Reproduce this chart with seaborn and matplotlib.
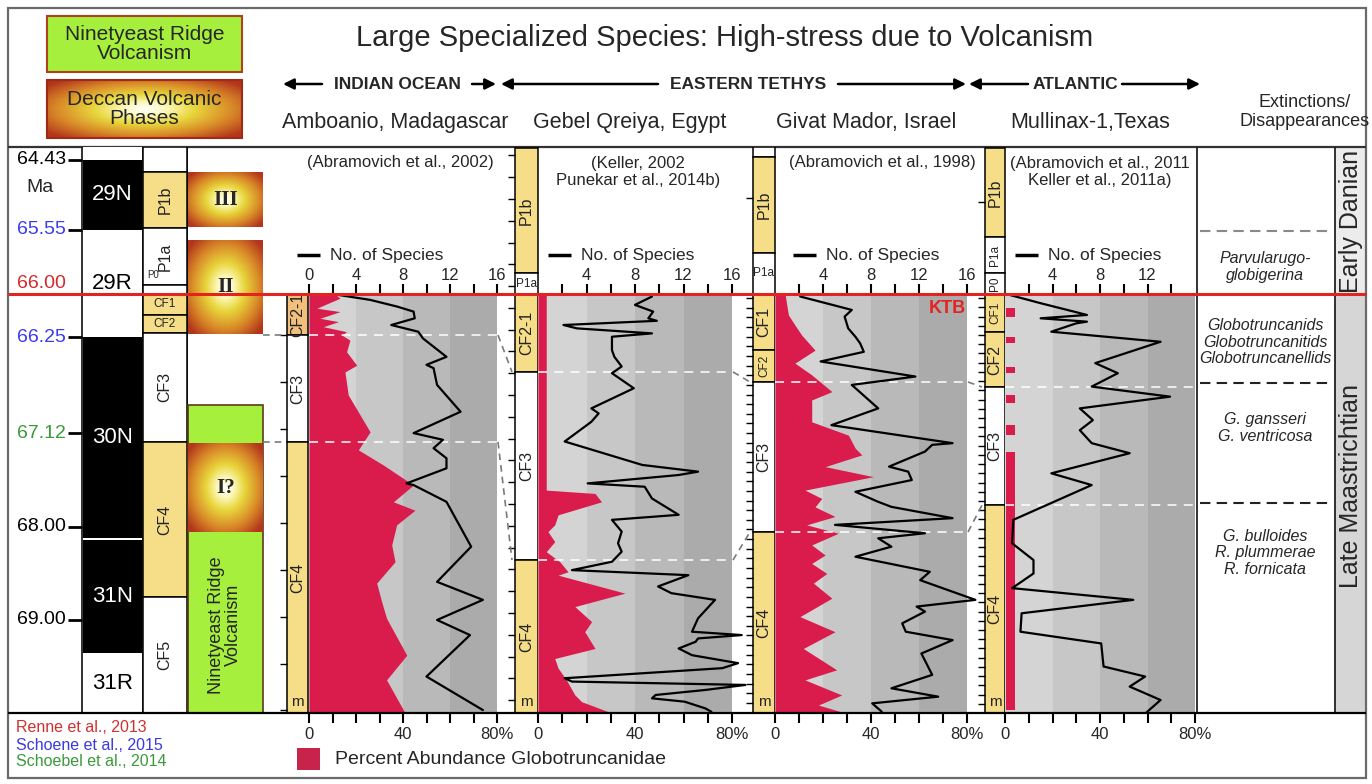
import numpy as np
import matplotlib
matplotlib.use('Agg')
import matplotlib.pyplot as plt
from matplotlib.colors import LinearSegmentedColormap
from matplotlib.patches import Rectangle
import seaborn as sns

sns.set_theme(style='white')
plt.rcParams['font.family'] = ['Liberation Sans', 'DejaVu Sans']

# position in section: 0 = K/Pg boundary (red line), 100 = base, negative = Danian above

# Amboanio, Madagascar
mad_sp_pos = [0, 1.4, 3.0, 4.2, 5.8, 7.4, 9.0, 10.6, 15.0, 16.9, 17.7, 21.7, 28.1, 33.2, 34.8, 36.8,
              39.2, 41.6, 45.2, 45.6, 49.6, 60.3, 68.7, 73.0, 77.8, 81.4, 91.3, 99.3]
mad_species = [2.0, 5.2, 7.5, 8.9, 9.0, 7.0, 9.3, 9.7, 11.7, 10.0, 10.6, 10.9, 12.9, 8.9, 11.4, 10.6,
               11.7, 11.7, 8.3, 8.9, 11.7, 13.8, 10.9, 14.8, 10.9, 13.7, 10.0, 14.8]
mad_pct_pos = [0, 1.0, 3.4, 4.2, 5.8, 6.6, 7.8, 9.0, 9.8, 11.0, 13.8, 17.0, 18.6, 24.1, 32.9, 37.2,
               40.8, 45.6, 49.6, 51.6, 55.1, 59.9, 63.9, 69.0, 73.4, 77.4, 86.2, 92.1, 100]
mad_pct = [11, 13.2, 3.3, 13.2, 4.7, 12.5, 6.1, 16.0, 13.9, 17.4, 16.0, 20.3, 15.3, 16.7, 26.0, 21.0,
           31.6, 44.4, 35.9, 45.1, 37.3, 35.2, 36.6, 28.8, 30.9, 33.0, 41.6, 33.0, 40.9]
mad_zones = ['CF2-1', 'CF3', 'CF4']
mad_zone_top = [0, 9.8, 35.3]
mad_zone_bot = [9.8, 35.3, 100]

# Gebel Qreiya, Egypt
egy_sp_pos = [0.6, 2.6, 4.2, 5.8, 6.4, 7.4, 8.2, 9.4, 10.2, 13.4, 15.0, 17.3, 18.9, 22.5, 27.3, 28.5,
              30.5, 35.2, 40.8, 42.4, 43.2, 45.2, 46.0, 48.8, 52.7, 53.9, 56.7, 59.5, 61.5, 63.9, 65.9,
              67.1, 69.8, 71.4, 73.0, 77.4, 80.6, 81.4, 82.2, 83.0, 84.6, 86.2, 88.1, 89.3, 91.7, 92.5,
              93.3, 94.5, 95.7, 96.5, 97.3, 98.9, 99.7]
egy_species = [9.4, 8.0, 9.5, 9.1, 9.8, 2.1, 3.2, 9.4, 6.1, 6.1, 6.3, 6.9, 6.1, 7.9, 4.4, 5.0,
               4.4, 2.2, 8.6, 13.2, 11.6, 4.1, 8.8, 9.4, 11.6, 6.1, 6.9, 6.6, 6.9, 6.1, 2.8,
               12.4, 9.9, 11.0, 14.6, 13.2, 12.7, 16.8, 13.2, 13.0, 11.6, 12.7, 16.5, 15.2, 2.2, 2.8,
               17.1, 13.8, 9.7, 9.4, 12.1, 13.8, 14.3]
egy_pct_pos = [0, 46.8, 47.6, 49.6, 52.7, 55.1, 56.7, 59.1, 61.5, 63.9, 66.3, 67.1, 71.4, 74.6, 78.2,
               80.6, 84.6, 87.0, 89.3, 92.1, 95.7, 97.3, 100]
egy_pct = [3.4, 3.4, 23.5, 26.2, 8.3, 6.9, 4.1, 6.9, 3.4, 9.0, 12.4, 8.3, 35.9, 15.2, 22.1,
           19.3, 23.5, 6.9, 8.3, 11.7, 15.2, 18.0, 30.4]
egy_zones = ['P1b', 'P1a', 'CF2-1', 'CF3', 'CF4']
egy_zone_top = [-34.8, -5.0, 0, 18.6, 63.5]
egy_zone_bot = [-5.0, 0, 18.6, 63.5, 100]

# Givat Mador, Israel
isr_sp_pos = [0.6, 3.8, 5.4, 8.2, 10.2, 11.8, 13.8, 16.1, 19.7, 21.7, 27.3, 31.3, 35.6, 36.0, 37.6,
              41.2, 42.4, 44.4, 47.2, 49.6, 50.8, 53.5, 55.1, 57.1, 58.3, 60.3, 62.7, 66.3, 68.3,
              73.0, 74.6, 75.8, 78.6, 80.6, 82.6, 85.8, 90.9, 94.1, 96.1, 97.7, 99.7]
isr_species = [2.1, 6.4, 5.8, 6.1, 6.7, 7.1, 7.4, 3.8, 11.7, 6.4, 8.6, 4.7, 14.8, 13.1, 12.5,
               9.5, 11.1, 11.4, 6.7, 8.6, 9.7, 14.8, 5.0, 12.5, 8.6, 9.7, 6.7, 12.9, 12.1,
               16.7, 11.8, 12.5, 10.6, 10.9, 14.8, 12.2, 13.1, 9.7, 13.6, 8.1, 8.9]
isr_pct_pos = [0, 2.6, 5.0, 7.4, 9.8, 13.4, 16.5, 19.3, 23.3, 25.3, 30.5, 33.7, 36.8, 38.4, 41.2,
               43.6, 46.8, 48.8, 50.8, 53.1, 55.1, 57.1, 59.9, 62.3, 64.3, 66.7, 69.0, 72.6, 77.0,
               80.6, 84.6, 89.7, 92.1, 95.7, 98.1, 100]
isr_pct = [4.2, 4.9, 5.6, 8.3, 11.1, 16.7, 8.3, 15.3, 23.7, 15.3, 15.3, 30.6, 33.4, 36.2, 20.9,
           41.0, 12.5, 19.5, 16.7, 25.0, 13.2, 26.4, 15.3, 20.9, 15.3, 21.6, 16.0, 23.7, 10.4,
           25.0, 11.8, 25.7, 12.5, 27.8, 18.1, 29.2]
isr_zones = ['', 'P1b', 'P1a', 'CF1', 'CF2', 'CF3', 'CF4']
isr_zone_top = [-35.1, -32.7, -9.8, 0, 13.4, 21.0, 56.8]
isr_zone_bot = [-32.7, -9.8, 0, 13.4, 21.0, 56.8, 100]

# Mullinax-1, Texas
tex_sp_pos = [0, 2.2, 4.2, 5.0, 5.8, 6.6, 7.0, 9.0, 11.4, 16.5, 18.9, 22.1, 24.5, 27.3, 30.1, 32.5,
              35.6, 38.0, 42.8, 45.6, 53.9, 59.5, 63.5, 66.7, 70.2, 73.0, 76.2, 80.6, 83.4, 88.9,
              91.3, 93.7, 96.9, 99.9]
tex_species = [0.1, 3.0, 5.8, 6.9, 3.0, 6.9, 6.0, 3.9, 13.1, 7.6, 9.5, 7.3, 13.9, 6.3, 7.4, 6.3,
               7.3, 10.5, 3.9, 7.3, 0.7, 0.6, 2.4, 2.4, 0.6, 10.8, 1.4, 1.3, 8.1, 8.3,
               11.8, 10.5, 13.1, 11.9]
tex_pct_top = [3.3, 10.3, 17.4, 24.1, 31.3, 37.7]
tex_pct_bot = [5.5, 11.7, 18.9, 26.0, 33.7, 99.3]
tex_pct = [3.4, 3.4, 3.4, 3.4, 3.4, 3.4]
tex_zones = ['P1b', 'P1a', 'P0', 'CF1', 'CF2', 'CF3', 'CF4']
tex_zone_top = [-34.8, -13.6, -5.0, 0, 9.1, 22.2, 50.4]
tex_zone_bot = [-13.6, -5.0, 0, 9.1, 22.2, 50.4, 100]

# time scale column
ma_labels = ['64.43', '65.55', '66.00', '66.25', '67.12', '68.00', '69.00']
ma_pos = [-32.0, -15.3, -2.6, 10.3, 33.2, 55.6, 77.8]
ma_colors = ['black', '#3b3bf0', '#d42a2a', '#3b3bf0', '#3a9a3a', 'black', 'black']
chrons = ['', '29N', '29R', '30N', '31N', '31R']
chron_top = [-35.1, -32.0, -15.3, 10.3, 58.7, 85.7]
chron_bot = [-32.0, -15.3, 10.3, 58.2, 85.7, 100]
chron_normal = [False, True, False, True, True, False]
ts_zones = ['', 'P1b', 'P1a', 'P0', 'CF1', 'CF2', 'CF3', 'CF4', 'CF5']
ts_zone_top = [-35.1, -29.1, -15.8, -2.1, 0, 5.0, 9.3, 35.3, 72.3]
ts_zone_bot = [-29.1, -15.8, -2.1, 0, 5.0, 9.3, 35.3, 72.3, 100]
deccan_phases = ['III', 'II', 'I?']
deccan_top = [-29.1, -12.9, 35.6]
deccan_bot = [-16.0, 9.5, 56.8]
ninetyeast_top, ninetyeast_bot = 26.5, 100

ext_names = ['Parvularugo-\nglobigerina', 'Globotruncanids\nGlobotruncanitids\nGlobotruncanellids',
             'G. gansseri\nG. ventricosa', 'G. bulloides\nR. plummerae\nR. fornicata']
ext_pos = [-6.4, 11.5, 32.0, 61.8]
ext_lines = [21.2, 49.9]
ext_top_line = -15.0

# ---- layout (pixels) ----
W, H = 1372, 784
TOP_Y, KTB_Y, BOT_Y = 147, 294, 713
PX = (BOT_Y - KTB_Y) / 100.0
D_TOP = (TOP_Y - KTB_Y) / PX

YELLOW = '#f6dd88'
ORANGE = '#f1c07c'
GREEN = '#a6ef3c'
RED = '#d91c4c'
KTB_RED = '#e3231f'
band_grays = ['#d4d4d4', '#c7c7c7', '#b9b9b9', '#ababab']
zone_fill = {'P1b': YELLOW, 'CF1': YELLOW, 'CF2': YELLOW, 'CF2-1': YELLOW, 'CF4': YELLOW}
glow_cmap = LinearSegmentedColormap.from_list(
    'glow', [(0, '#ffffff'), (0.18, '#fcf7b8'), (0.4, '#e8d63c'), (0.7, '#d98a28'), (1, '#b3361c')])


def box(x0, x1, y0, y1):
    return [x0 / W, 1 - y1 / H, (x1 - x0) / W, (y1 - y0) / H]


def glow(ax, x0, x1, y_a, y_b, z=3):
    xx, yy = np.meshgrid(np.linspace(-1, 1, 90), np.linspace(-1, 1, 90))
    r = np.clip(np.hypot(xx, yy) / 1.3, 0, 1)
    ax.imshow(r, cmap=glow_cmap, vmin=0, vmax=1, extent=(x0, x1, y_b, y_a),
              aspect='auto', interpolation='bilinear', zorder=z)


def strip(ax, x0, x1, names, tops, bots, horiz=(), over=None, m=True):
    for n, t, b in zip(names, tops, bots):
        fc = (over or {}).get(n, zone_fill.get(n, 'white'))
        ax.add_patch(Rectangle((x0, t), x1 - x0, b - t, facecolor=fc, edgecolor='black', lw=1.1, zorder=2))
        if n:
            flat = n in horiz
            small = flat or (b - t) * PX < 40
            ax.text((x0 + x1) / 2, (t + b) / 2, n, rotation=0 if flat else 90,
                    ha='center', va='center', fontsize=8.5 if small else 11.5, color='#222222', zorder=3)
    if m:
        ax.text((x0 + x1) / 2, 97.3, 'm', ha='center', va='center', fontsize=11, zorder=3)


fig = plt.figure(figsize=(W / 100, H / 100), dpi=100)

# background frame
bg = fig.add_axes([0, 0, 1, 1], zorder=0)
bg.set_xlim(0, W)
bg.set_ylim(H, 0)
bg.axis('off')
bg.add_patch(Rectangle((1335, TOP_Y), 31, KTB_Y - TOP_Y, facecolor='#ececec', lw=0))
bg.add_patch(Rectangle((1335, KTB_Y), 31, BOT_Y - KTB_Y, facecolor='#d6d6d6', lw=0))
bg.add_patch(Rectangle((8, 8), 1358, 770, fill=False, edgecolor='#6a6a6a', lw=1.6))
bg.hlines(TOP_Y, 8, 1366, color='#333333', lw=1.6)
bg.vlines([82, 143, 187, 1197, 1335], TOP_Y, BOT_Y, color='#222222', lw=1.3)

# columns drawn in section-position units
col = fig.add_axes(box(0, W, TOP_Y, BOT_Y), zorder=1)
col.set_xlim(0, W)
col.set_ylim(100, D_TOP)
col.axis('off')

for lab, pos, c in zip(ma_labels, ma_pos, ma_colors):
    col.text(66, pos, lab, ha='right', va='center', fontsize=14, color=c)
    if lab != '66.00':
        col.hlines(pos, 68, 82, color='black', lw=2)
col.text(40, (-25.3), 'Ma', ha='center', va='center', fontsize=14)

for n, t, b, normal in zip(chrons, chron_top, chron_bot, chron_normal):
    col.add_patch(Rectangle((83, t), 59, b - t, facecolor='black' if normal else 'white', lw=0, zorder=2))
    if n:
        col.text(112.5, (t + b) / 2, n, ha='center', va='center', fontsize=16,
                 color='white' if normal else 'black', zorder=3)

strip(col, 143, 187, ts_zones[:3] + [''] + ts_zones[4:], ts_zone_top, ts_zone_bot,
      horiz=('CF1', 'CF2'), m=False)
col.text(147, -4.6, 'P0', fontsize=7, ha='left', va='center', zorder=3)

col.add_patch(Rectangle((188, ninetyeast_top), 75, ninetyeast_bot - ninetyeast_top,
                        facecolor=GREEN, edgecolor='#5a3a1a', lw=1.2, zorder=2))
col.text(225, 79, 'Ninetyeast Ridge\nVolcanism', rotation=90, ha='center', va='center',
         fontsize=13, linespacing=0.95, zorder=4)
for ph, t, b in zip(deccan_phases, deccan_top, deccan_bot):
    glow(col, 188, 263, t, b)
    col.text(225.5, (t + b) / 2, ph, ha='center', va='center', fontsize=15, fontweight='bold',
             family=['Liberation Serif', 'DejaVu Serif'], zorder=4)

# per-site panels
panels = [
    dict(strip=(287, 308), data=(309, 497), sp_pos=mad_sp_pos, species=mad_species,
         pct_pos=mad_pct_pos, pct=mad_pct, zones=mad_zones, ztop=mad_zone_top, zbot=mad_zone_bot,
         horiz=(), over={'CF2-1': ORANGE}, sp_ticks=np.arange(0, 17, 2), leg=297,
         ticks=np.arange(9.8, 100, 11.2)),
    dict(strip=(515, 538), data=(538, 732), sp_pos=egy_sp_pos, species=egy_species,
         pct_pos=egy_pct_pos, pct=egy_pct, zones=egy_zones, ztop=egy_zone_top, zbot=egy_zone_bot,
         horiz=('P1a',), over=None, sp_ticks=np.arange(2, 17, 2), leg=548,
         ticks=np.arange(D_TOP + 2, 100, 5.2)),
    dict(strip=(753, 775), data=(775, 967), sp_pos=isr_sp_pos, species=isr_species,
         pct_pos=isr_pct_pos, pct=isr_pct, zones=isr_zones, ztop=isr_zone_top, zbot=isr_zone_bot,
         horiz=('P1a',), over=None, sp_ticks=np.arange(2, 17, 2), leg=793,
         ticks=np.r_[-23, np.arange(1, 100, 2.3)]),
    dict(strip=(985, 1005), data=(1005, 1195), sp_pos=tex_sp_pos, species=tex_species,
         pct_pos=None, pct=None, zones=tex_zones, ztop=tex_zone_top, zbot=tex_zone_bot,
         horiz=(), over=None, sp_ticks=np.arange(2, 15, 2), leg=1015,
         ticks=np.r_[-22, np.arange(1, 100, 2.2)]),
]

axes = []
for p in panels:
    s0, s1 = p['strip']
    strip(col, s0, s1, p['zones'], p['ztop'], p['zbot'], horiz=p['horiz'], over=p['over'])
    col.hlines(p['ticks'], s0 - 7, s0, color='black', lw=1)

    x0, x1 = p['data']
    ax = fig.add_axes(box(x0, x1, KTB_Y, BOT_Y), zorder=2)
    for k, c in enumerate(band_grays):
        ax.axvspan(20 * k, 20 * (k + 1), color=c, lw=0, zorder=0)
    if p['pct'] is not None:
        ax.fill_betweenx(p['pct_pos'], 0, p['pct'], color=RED, lw=0, zorder=1)
    else:
        ax.barh([(a + b) / 2 for a, b in zip(tex_pct_top, tex_pct_bot)], tex_pct,
                height=[b - a for a, b in zip(tex_pct_top, tex_pct_bot)], left=0.6,
                color=RED, lw=0, zorder=1)
    for z, t in zip(p['zones'], p['ztop']):
        if z in ('CF3', 'CF4'):
            ax.axhline(t, color='white', ls=(0, (5, 4)), lw=1.3, alpha=0.85, zorder=2)
    ax.set_xlim(0, 80)
    ax.set_ylim(100, 0)
    for sp in ax.spines.values():
        sp.set_visible(False)
    ax.set_xticks(np.arange(0, 81, 10))
    ax.set_xticklabels(['0', '', '', '', '40', '', '', '', '80%'])
    ax.set_yticks([])
    ax.tick_params(axis='x', bottom=True, direction='out', length=7, width=1.5,
                   color='black', labelsize=12, pad=3)

    axs = ax.twiny()
    sns.lineplot(x=p['species'], y=p['sp_pos'], sort=False, estimator=None, color='black',
                 lw=1.6, ax=axs, clip_on=False, zorder=3)
    axs.set_xlim(0, 16)
    ax.set_ylim(100, 0)
    axs.set_xlabel('')
    axs.set_ylabel('')
    ax.set_ylabel('')
    for sp in axs.spines.values():
        sp.set_visible(False)
    axs.set_xticks(p['sp_ticks'])
    axs.set_xticklabels([str(t) if t % 4 == 0 else '' for t in p['sp_ticks']])
    axs.tick_params(axis='x', top=True, labeltop=True, bottom=False, labelbottom=False,
                    direction='out', length=7, width=1.5, color='black', labelsize=12, pad=1)
    axs.tick_params(axis='y', left=False, labelleft=False)
    axes.append(ax)

axes[2].text(72, 3.5, 'KTB', color=KTB_RED, fontsize=13, fontweight='bold',
             ha='center', va='center', zorder=4)

# correlation lines between sections
dash = dict(color='#7a7a7a', ls=(0, (4, 3)), lw=1.2)
b_mad = [t for z, t in zip(mad_zones, mad_zone_top) if z in ('CF3', 'CF4')]
b_egy = [t for z, t in zip(egy_zones, egy_zone_top) if z in ('CF3', 'CF4')]
b_isr = [t for z, t in zip(isr_zones, isr_zone_top) if z in ('CF3', 'CF4')]
b_tex = [t for z, t in zip(tex_zones, tex_zone_top) if z in ('CF3', 'CF4')]
for b in b_mad:
    col.plot([263, 286], [b, b], **dash)
for (xa, xb), ba, bb in [((498, 512), b_mad, b_egy), ((733, 750), b_egy, b_isr), ((968, 982), b_isr, b_tex)]:
    for u, v in zip(ba, bb):
        col.plot([xa, xb], [u, v], **dash)

# extinctions column
col.hlines(ext_top_line, 1200, 1332, color='#8a8a8a', ls=(0, (5, 3)), lw=1.5)
col.hlines(ext_lines, 1200, 1328, color='#222222', ls=(0, (5, 3)), lw=1.5)
for n, pos in zip(ext_names, ext_pos):
    col.text(1265, pos, n, ha='center', va='center', fontsize=11.5, style='italic', linespacing=1.15)

# overlay: header, labels, boundary line
fg = fig.add_axes([0, 0, 1, 1], zorder=5)
fg.set_xlim(0, W)
fg.set_ylim(H, 0)
fg.axis('off')
fg.hlines(KTB_Y, 8, 1366, color=KTB_RED, lw=2.2)
fg.hlines(BOT_Y, 8, 1366, color='black', lw=1.6)

fg.add_patch(Rectangle((47, 16), 195, 56, facecolor=GREEN, edgecolor='#b04020', lw=1.5))
fg.text(144.5, 44, 'Ninetyeast Ridge\nVolcanism', ha='center', va='center', fontsize=15, linespacing=0.95)
glow(fg, 47, 242, 80, 138)
fg.add_patch(Rectangle((47, 80), 195, 58, fill=False, edgecolor='#a02a18', lw=1.5, zorder=4))
fg.text(144.5, 109, 'Deccan Volcanic\nPhases', ha='center', va='center', fontsize=15,
        linespacing=0.95, zorder=5)
fg.set_xlim(0, W)
fg.set_ylim(H, 0)

fg.text(725, 38, 'Large Specialized Species: High-stress due to Volcanism', ha='center', va='center',
        fontsize=21)

arrow_kw = dict(arrowstyle='-|>', color='black', lw=1.8, mutation_scale=16, shrinkA=0, shrinkB=0)
for lab, xc, left, right in [('INDIAN OCEAN', 397, (322, 283), (472, 496)),
                             ('EASTERN TETHYS', 748, (658, 501), (838, 966)),
                             ('ATLANTIC', 1075, (1028, 969), (1122, 1200))]:
    fg.text(xc, 84, lab, ha='center', va='center', fontsize=12.5, fontweight='bold')
    for a, b in (left, right):
        fg.annotate('', xy=(b, 84), xytext=(a, 84), arrowprops=arrow_kw)

for name, xc in [('Amboanio, Madagascar', 395), ('Gebel Qreiya, Egypt', 630),
                 ('Givat Mador, Israel', 866), ('Mullinax-1,Texas', 1090)]:
    fg.text(xc, 122, name, ha='center', va='center', fontsize=15.5)
fg.text(1305, 112, 'Extinctions/\nDisappearances', ha='center', va='center', fontsize=13, linespacing=1.2)

for txt, xc, yc in [('(Abramovich et al., 2002)', 400, 162),
                    ('(Keller, 2002\nPunekar et al., 2014b)', 638, 172),
                    ('(Abramovich et al., 1998)', 882, 162),
                    ('(Abramovich et al., 2011\nKeller et al., 2011a)', 1100, 172)]:
    fg.text(xc, yc, txt, ha='center', va='center', fontsize=12, linespacing=1.1)

for p in panels:
    fg.hlines(255, p['leg'], p['leg'] + 23, color='black', lw=2.5)
    fg.text(p['leg'] + 33, 255, 'No. of Species', ha='left', va='center', fontsize=12.5)

fg.text(1351, 221, 'Early Danian', rotation=90, ha='center', va='center', fontsize=18)
fg.text(1351, 486, 'Late Maastrichtian', rotation=90, ha='center', va='center', fontsize=18)

fg.add_patch(Rectangle((297, 748), 23, 22, facecolor='#c8234a', lw=0))
fg.text(335, 759, 'Percent Abundance Globotruncanidae', ha='left', va='center', fontsize=14)

for txt, y, c in [('Renne et al., 2013', 728, '#d03030'), ('Schoene et al., 2015', 745, '#3a3ae0'),
                  ('Schoebel et al., 2014', 762, '#3a9a3a')]:
    fg.text(16, y, txt, ha='left', va='center', fontsize=11.5, color=c)

fig.savefig('out.png', dpi=100)
